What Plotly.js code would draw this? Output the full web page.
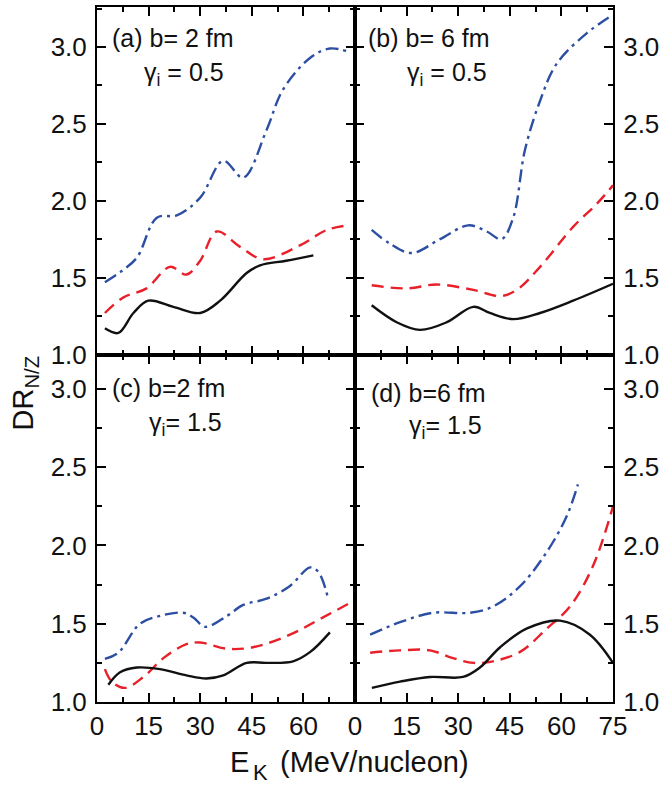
<!DOCTYPE html>
<html>
<head>
<meta charset="utf-8">
<script src="https://cdn.plot.ly/plotly-3.0.1.min.js"></script>
<style>html,body{margin:0;padding:0;background:#fff;}#chart{width:666px;height:787px;}</style>
</head>
<body>
<div id="chart"></div>
<script>
// ---- data ----
const xTickValsLeft = [0, 15, 30, 45, 60];
const xTickValsRight = [0, 15, 30, 45, 60, 75];
const yTickVals = [1.0, 1.5, 2.0, 2.5, 3.0];
const yTickText = ['1.0', '1.5', '2.0', '2.5', '3.0'];

// panel (a) b=2 fm, gamma_i=0.5
const aBlueX = [2.3, 7, 11.6, 17.4, 23.2, 30, 36.7, 42.5, 49.3, 54, 62, 67.7, 73];
const aBlueY = [1.47, 1.54, 1.63, 1.89, 1.905, 2.02, 2.26, 2.15, 2.46, 2.72, 2.93, 2.99, 2.97];
const aRedX = [2.3, 7.6, 14.4, 21.2, 26, 30, 34.8, 41.6, 48.3, 59, 66.8, 73];
const aRedY = [1.27, 1.37, 1.43, 1.57, 1.52, 1.61, 1.80, 1.70, 1.62, 1.71, 1.81, 1.84];
const aBlackX = [2.3, 6.2, 10.6, 14.9, 22.2, 30, 35.8, 43.5, 47.4, 55, 62.9];
const aBlackY = [1.17, 1.14, 1.27, 1.35, 1.31, 1.27, 1.35, 1.53, 1.58, 1.61, 1.645];

// panel (b) b=6 fm, gamma_i=0.5
const bBlueX = [4.85, 10.2, 16.5, 24.7, 32.9, 38.3, 42.6, 46, 49.4, 53.8, 58.6, 67.4, 75];
const bBlueY = [1.81, 1.72, 1.66, 1.75, 1.84, 1.80, 1.75, 1.89, 2.33, 2.65, 2.89, 3.09, 3.21];
const bRedX = [4.85, 15, 23.7, 34.4, 42.2, 47, 53.8, 63.4, 70.3, 75];
const bRedY = [1.45, 1.43, 1.455, 1.42, 1.38, 1.42, 1.57, 1.83, 1.98, 2.10];
const bBlackX = [4.85, 12.1, 18.9, 26.7, 34.4, 39.2, 46, 53.8, 63.4, 75];
const bBlackY = [1.32, 1.21, 1.16, 1.21, 1.31, 1.27, 1.23, 1.27, 1.35, 1.46];

// panel (c) b=2 fm, gamma_i=1.5
const cBlueX = [2.3, 6.2, 12.5, 18.3, 25, 28, 31.4, 37.8, 42.5, 49.3, 56, 62, 64.4, 67.2];
const cBlueY = [1.275, 1.315, 1.50, 1.55, 1.57, 1.54, 1.48, 1.55, 1.62, 1.66, 1.74, 1.86, 1.83, 1.66];
const cRedX = [2.3, 4.3, 8.1, 13.5, 19.3, 26, 30, 37.8, 45.4, 56.1, 64.8, 75];
const cRedY = [1.21, 1.13, 1.09, 1.16, 1.28, 1.37, 1.38, 1.34, 1.35, 1.43, 1.53, 1.65];
const cBlackX = [3.3, 6.7, 11.6, 18.3, 26, 31.8, 36.7, 43.5, 49.3, 57, 62, 67.7];
const cBlackY = [1.11, 1.19, 1.22, 1.21, 1.17, 1.15, 1.17, 1.25, 1.25, 1.26, 1.32, 1.445];

// panel (d) b=6 fm, gamma_i=1.5
const dBlueX = [4.4, 13.1, 22.7, 33.4, 40.1, 48, 55.8, 61.6, 64.8];
const dBlueY = [1.43, 1.51, 1.57, 1.57, 1.61, 1.74, 1.96, 2.19, 2.39];
const dRedX = [4.4, 13.1, 21.8, 28.5, 34.4, 40.1, 48, 55.8, 62.5, 69.2, 75];
const dRedY = [1.315, 1.33, 1.33, 1.28, 1.25, 1.26, 1.32, 1.47, 1.61, 1.87, 2.25];
const dBlackX = [4.9, 13.1, 21.8, 31.4, 36.3, 42.2, 50, 59.6, 68.3, 75];
const dBlackY = [1.09, 1.13, 1.16, 1.16, 1.22, 1.35, 1.47, 1.52, 1.43, 1.25];

const panelLabels = ['(a) b= 2 fm', '(b) b= 6 fm', '(c) b=2 fm', '(d) b=6 fm'];
const gammaLabels = ['γ<sub>i</sub> = 0.5', 'γ<sub>i</sub> = 0.5', 'γ<sub>i</sub>= 1.5', 'γ<sub>i</sub>= 1.5'];

// ---- styling ----
const FONT = 'Liberation Sans, Arial, Helvetica, sans-serif';
const BLUE = '#2d4fa3';
const RED = '#e8202a';
const BLACK = '#111111';
const LW = 2.4;

function tr(x, y, xa, ya, color, dash) {
  return {x: x, y: y, xaxis: xa, yaxis: ya, type: 'scatter', mode: 'lines',
    line: {color: color, width: LW, dash: dash, shape: 'spline', smoothing: 1},
    hoverinfo: 'skip', showlegend: false, cliponaxis: true};
}
const DASH = '12px,7px';
const DASHDOT = '13px,5px,3px,5px';

const data = [
  tr(aBlueX, aBlueY, 'x', 'y', BLUE, DASHDOT),
  tr(aRedX, aRedY, 'x', 'y', RED, DASH),
  tr(aBlackX, aBlackY, 'x', 'y', BLACK, 'solid'),
  tr(bBlueX, bBlueY, 'x2', 'y2', BLUE, DASHDOT),
  tr(bRedX, bRedY, 'x2', 'y2', RED, DASH),
  tr(bBlackX, bBlackY, 'x2', 'y2', BLACK, 'solid'),
  tr(cBlueX, cBlueY, 'x3', 'y3', BLUE, DASHDOT),
  tr(cRedX, cRedY, 'x3', 'y3', RED, DASH),
  tr(cBlackX, cBlackY, 'x3', 'y3', BLACK, 'solid'),
  tr(dBlueX, dBlueY, 'x4', 'y4', BLUE, DASHDOT),
  tr(dRedX, dRedY, 'x4', 'y4', RED, DASH),
  tr(dBlackX, dBlackY, 'x4', 'y4', BLACK, 'solid')
];

function xax(domain, anchor, showLabels, vals) {
  return {domain: domain, anchor: anchor, range: [0, 75], showgrid: false, zeroline: false,
    showline: true, linecolor: '#000', linewidth: 2, mirror: 'ticks',
    ticks: 'inside', ticklen: 9, tickwidth: 2, tickcolor: '#000',
    tickmode: 'array', tickvals: vals,
    showticklabels: showLabels,
    tickfont: {family: FONT, size: 26, color: '#111'},
    minor: {dtick: 7.5, ticks: 'inside', ticklen: 5, tickwidth: 2, tickcolor: '#000', showgrid: false},
    fixedrange: true};
}
function yax(domain, anchor, side, top) {
  return {domain: domain, anchor: anchor, side: side, range: [1.0, top], showgrid: false, zeroline: false,
    showline: true, linecolor: '#000', linewidth: 2, mirror: 'ticks',
    ticks: 'inside', ticklen: 9, tickwidth: 2, tickcolor: '#000',
    tickmode: 'array', tickvals: yTickVals, ticktext: yTickText,
    ticklabelstandoff: 3,
    tickfont: {family: FONT, size: 26, color: '#111'},
    minor: {dtick: 0.25, tick0: 1, ticks: 'inside', ticklen: 5, tickwidth: 2, tickcolor: '#000', showgrid: false},
    fixedrange: true};
}

const annFont = {family: FONT, size: 25, color: '#111'};
function ann(text, x, y) {
  return {text: text, x: x, y: y, xref: 'paper', yref: 'paper', xanchor: 'left', yanchor: 'middle',
    showarrow: false, font: annFont};
}
const titleFont = {family: FONT, size: 29, color: '#111'};

const layout = {
  width: 666, height: 787,
  margin: {l: 97, r: 53, t: 7, b: 85},
  paper_bgcolor: '#fff', plot_bgcolor: '#fff',
  showlegend: false,
  xaxis: xax([0, 0.5], 'y', false, xTickValsLeft),
  yaxis: yax([0.5, 1], 'x', 'left', 3.26),
  xaxis2: xax([0.5, 1], 'y2', false, xTickValsRight),
  yaxis2: yax([0.5, 1], 'x2', 'right', 3.26),
  xaxis3: xax([0, 0.5], 'y3', true, xTickValsLeft),
  yaxis3: yax([0, 0.5], 'x3', 'left', 3.22),
  xaxis4: xax([0.5, 1], 'y4', true, xTickValsRight),
  yaxis4: yax([0, 0.5], 'x4', 'right', 3.22),
  annotations: [
    ann(panelLabels[0], 0.025, 0.955), ann(gammaLabels[0], 0.088, 0.903),
    ann(panelLabels[1], 0.522, 0.955), ann(gammaLabels[1], 0.596, 0.903),
    ann(panelLabels[2], 0.025, 0.452), ann(gammaLabels[2], 0.096, 0.400),
    ann(panelLabels[3], 0.528, 0.445), ann(gammaLabels[3], 0.600, 0.396),
    {text: 'DR<sub>N/Z</sub>', x: -0.14, y: 0.445, xref: 'paper', yref: 'paper', xanchor: 'center', yanchor: 'middle',
      textangle: -90, showarrow: false, font: titleFont},
    {text: 'E', x: 0.256, y: -0.086, xref: 'paper', yref: 'paper', xanchor: 'left', yanchor: 'middle',
      showarrow: false, borderpad: 0, font: titleFont},
    {text: 'K', x: 0.300, y: -0.101, xref: 'paper', yref: 'paper', xanchor: 'left', yanchor: 'middle',
      showarrow: false, borderpad: 0, font: {family: FONT, size: 22, color: '#111'}},
    {text: '(MeV/nucleon)', x: 0.352, y: -0.086, xref: 'paper', yref: 'paper', xanchor: 'left', yanchor: 'middle',
      showarrow: false, borderpad: 0, font: titleFont}
  ]
};

Plotly.newPlot('chart', data, layout, {staticPlot: true, displayModeBar: false});
</script>
</body>
</html>
